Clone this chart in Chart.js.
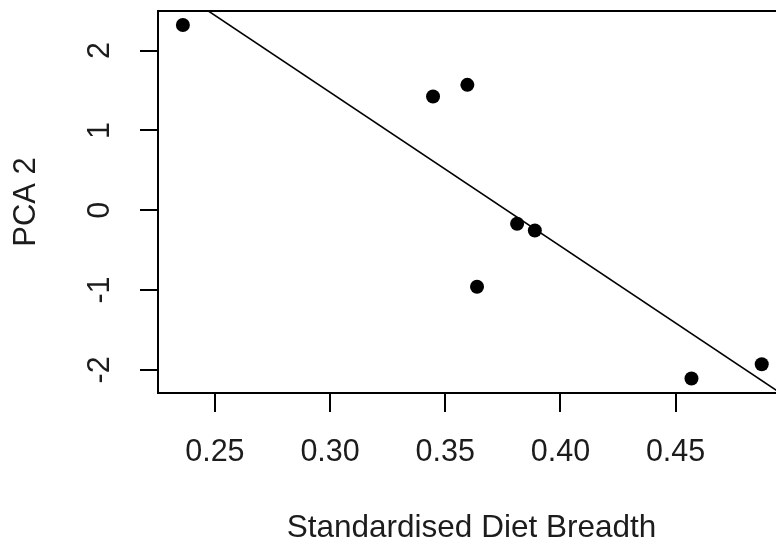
<!DOCTYPE html>
<html>
<head>
<meta charset="utf-8">
<script src="https://cdn.jsdelivr.net/npm/chart.js@4"></script>
<style>
    html, body { margin: 0; padding: 0; background: #fff; overflow: hidden; width: 776px; height: 547px; }
    #wrap { width: 800px; height: 547px; }
</style>
</head>
<body>
<div id="wrap"><canvas id="scatterChart" width="800" height="547"></canvas></div>
<script>
// Data
const dietBreadth = [0.2361, 0.3447, 0.3596, 0.3812, 0.3889, 0.3638, 0.4569, 0.4874];
const pca2 = [2.321, 1.425, 1.571, -0.170, -0.254, -0.958, -2.108, -1.929];
const xTicks = [0.25, 0.30, 0.35, 0.40, 0.45];
const yTicks = [-2, -1, 0, 1, 2];

const xMin = 0.2253, xMax = 0.4975;
const yMin = -2.29, yMax = 2.496;

const FONT = "'Liberation Sans', Arial, sans-serif";
const INK = "#1c1c1c";

// least squares fit, like abline(lm(y ~ x))
function ajusteLineal(xs, ys) {
    const n = xs.length;
    const mx = xs.reduce((a, v) => a + v, 0) / n;
    const my = ys.reduce((a, v) => a + v, 0) / n;
    let sxy = 0, sxx = 0;
    for (let i = 0; i < n; i++) {
        sxy += (xs[i] - mx) * (ys[i] - my);
        sxx += (xs[i] - mx) * (xs[i] - mx);
    }
    const b = sxy / sxx;
    return { a: my - b * mx, b: b };
}

const fit = ajusteLineal(dietBreadth, pca2);
const puntos = dietBreadth.map((x, i) => ({ x: x, y: pca2[i] }));
const linea = [xMin, xMax].map((x) => ({ x: x, y: fit.a + fit.b * x }));

// box around the plot region
const marco = {
    id: "marco",
    afterDraw(chart) {
        const { ctx, chartArea } = chart;
        ctx.save();
        ctx.strokeStyle = "#000";
        ctx.lineWidth = 2;
        ctx.strokeRect(chartArea.left, chartArea.top, chartArea.right - chartArea.left, chartArea.bottom - chartArea.top);
        ctx.restore();
    },
};

const ctx = document.getElementById("scatterChart").getContext("2d");

new Chart(ctx, {
    type: "scatter",
    data: {
        datasets: [
            {
                data: puntos,
                pointRadius: 7,
                pointHoverRadius: 7,
                backgroundColor: "#000",
                borderWidth: 0,
            },
            {
                type: "line",
                data: linea,
                borderColor: "#000",
                borderWidth: 1.6,
                pointRadius: 0,
                fill: false,
                clip: 0,
            },
        ],
    },
    options: {
        responsive: false,
        animation: false,
        layout: { padding: { top: 11, right: 15, left: 0, bottom: 0 } },
        plugins: { legend: { display: false }, tooltip: { enabled: false } },
        scales: {
            x: {
                type: "linear",
                min: xMin,
                max: xMax,
                afterBuildTicks: (scale) => { scale.ticks = xTicks.map((v) => ({ value: v })); },
                afterFit: (scale) => {
                    scale.height = 154;
                    scale.paddingLeft = 0;
                    scale.paddingRight = 0;
                },
                grid: { drawOnChartArea: false, drawTicks: true, tickLength: 19, color: "#000", lineWidth: 2 },
                border: { display: false },
                ticks: {
                    padding: 22,
                    color: INK,
                    font: { family: FONT, size: 30.5 },
                    callback: (v) => v.toFixed(2),
                },
                title: {
                    display: true,
                    text: "Standardised Diet Breadth",
                    color: INK,
                    font: { family: FONT, size: 31.5 },
                    padding: { top: 0, bottom: 0 },
                },
            },
            y: {
                type: "linear",
                min: yMin,
                max: yMax,
                afterBuildTicks: (scale) => { scale.ticks = yTicks.map((v) => ({ value: v })); },
                afterFit: (scale) => {
                    scale.width = 158;
                    scale.paddingTop = 0;
                    scale.paddingBottom = 0;
                },
                grid: { drawOnChartArea: false, drawTicks: true, tickLength: 18, color: "#000", lineWidth: 2 },
                border: { display: false },
                ticks: {
                    padding: 26,
                    minRotation: 90,
                    maxRotation: 90,
                    crossAlign: "center",
                    color: INK,
                    font: { family: FONT, size: 30.5 },
                    callback: (v) => String(v),
                },
                title: {
                    display: true,
                    text: "PCA 2",
                    color: INK,
                    font: { family: FONT, size: 31 },
                    padding: { top: 8, bottom: 0 },
                },
            },
        },
    },
    plugins: [marco],
});
</script>
</body>
</html>
